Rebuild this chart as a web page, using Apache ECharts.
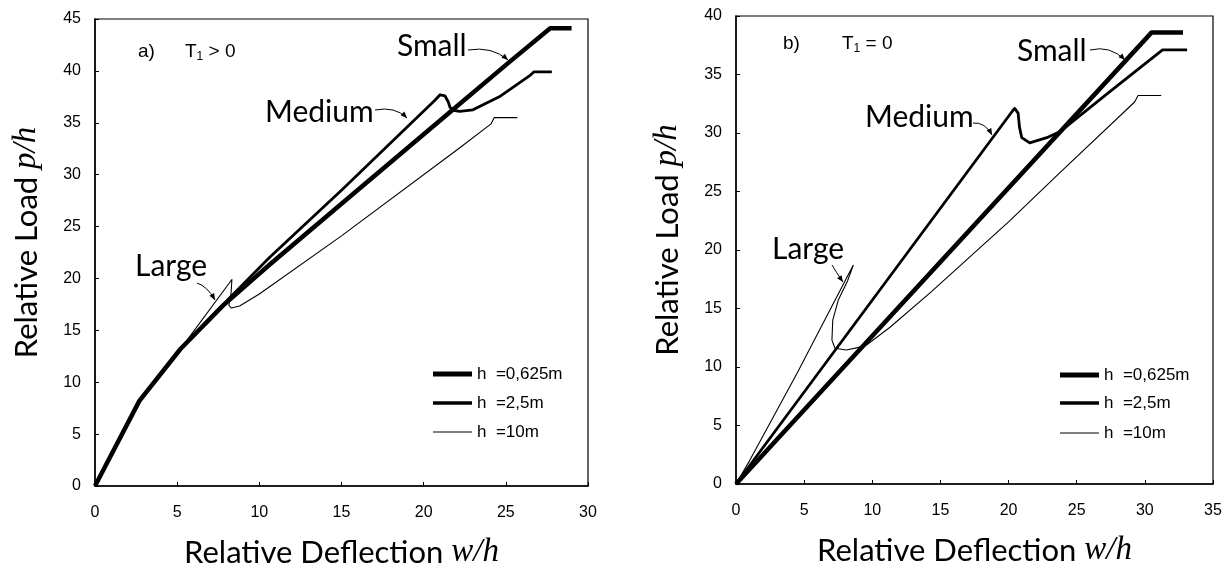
<!DOCTYPE html>
<html>
<head>
<meta charset="utf-8">
<script src="https://cdn.jsdelivr.net/npm/echarts@6/dist/echarts.min.js"></script>
<style>
  html, body { margin: 0; background: #fff; }
  #chart { width: 1228px; height: 574px; }
</style>
</head>
<body>
<div id="chart"></div>
<script>
// series names (legend)
var names = ['h  =0,625m', 'h  =2,5m', 'h  =10m'];

// a) T1 > 0  -- [w/h, p/h]
var aSmall = [[0, 0], [2.7, 8.2], [5.2, 13.2], [7.8, 17.4], [10.6, 21.3], [15, 27.2], [21.5, 35.9],
  [25.1, 40.7], [27.7, 44.1], [29, 44.1]];
var aMedium = [[0, 0], [2.7, 8.2], [5.2, 13.2], [7.8, 17.5], [10.6, 22.0], [15, 28.5], [20.7, 37.2],
  [21.0, 37.7], [21.3, 37.6], [21.5, 37.0], [21.6, 36.5], [21.8, 36.2], [22.2, 36.1], [23, 36.25],
  [24.6, 37.5], [26.5, 39.6], [26.7, 39.9], [27.8, 39.9]];
var aLarge = [[0, 0], [2.7, 8.2], [5.3, 13.4], [8.33, 19.9], [8.28, 18.6], [8.15, 17.4], [8.3, 17.15],
  [8.8, 17.35], [10, 18.5], [15, 24.1], [22.2, 32.6], [24.1, 34.9], [24.3, 35.5], [25.7, 35.5]];

// b) T1 = 0
var bSmall = [[0, 0], [30.5, 38.6], [32.8, 38.6]];
var bMedium = [[0, 0], [20.3, 31.9], [20.45, 32.1], [20.7, 31.7], [20.8, 30.5], [20.97, 29.6],
  [21.55, 29.15], [22.8, 29.6], [23.75, 30.1], [27.5, 33.6], [31.3, 37.1], [33.1, 37.1]];
var bLarge = [[0, 0], [1, 2.0], [4.5, 9.5], [8.6, 18.7], [8.2, 17.4], [7.5, 15.7],
  [7.1, 14.0], [7.04, 12.3], [7.26, 11.6], [8.1, 11.45], [9.1, 11.7], [9.6, 11.9], [11.3, 13.4],
  [14.3, 16.4], [20, 22.4], [23.75, 26.6], [29.25, 32.65], [29.5, 33.2], [31.2, 33.2]];

var widths = [4.5, 2.8, 1.1];

var chart = echarts.init(document.getElementById('chart'));

var titleRich = {
  a: { fontFamily: 'Lato', fontSize: 31, color: '#000' },
  b: { fontFamily: 'Liberation Serif', fontStyle: 'italic', fontSize: 33, color: '#000' }
};

function xAxis(idx, max) {
  return {
    gridIndex: idx, type: 'value', min: 0, max: max, interval: 5,
    name: '{a|Relative Deflection }{b|w/h}', nameLocation: 'middle', nameGap: 50,
    nameTextStyle: { rich: titleRich },
    axisLine: { lineStyle: { color: '#000', width: 1.5 } },
    axisTick: { inside: true, length: 4, lineStyle: { color: '#000' } },
    axisLabel: { fontFamily: 'Liberation Sans', fontSize: 16, color: '#000', margin: 19 },
    splitLine: { show: false }
  };
}
function yAxis(idx, max) {
  return {
    gridIndex: idx, type: 'value', min: 0, max: max, interval: 5,
    name: '{a|Relative Load }{b|p/h}', nameLocation: 'middle', nameGap: 52, nameRotate: 90,
    nameTextStyle: { rich: titleRich, padding: [0, 0, 0, 20] },
    axisLine: { lineStyle: { color: '#000', width: 1.5 } },
    axisTick: { inside: true, length: 4, lineStyle: { color: '#000' } },
    axisLabel: { fontFamily: 'Liberation Sans', fontSize: 16, color: '#000', margin: 14 },
    splitLine: { show: false }
  };
}
function line(name, data, idx, w) {
  return {
    name: name, type: 'line', xAxisIndex: idx, yAxisIndex: idx, data: data,
    symbol: 'none', color: '#000', animation: false,
    lineStyle: { color: '#000', width: w, join: 'round' }
  };
}
function legend(name, left, top, h) {
  return {
    data: [name], left: left, top: top, padding: 0, icon: 'rect',
    itemWidth: 39, itemHeight: h, selectedMode: false,
    textStyle: { fontFamily: 'Liberation Sans', fontSize: 17, color: '#000', lineHeight: 18 }
  };
}
function label(text, x, y) {
  return { type: 'text', x: x, y: y,
    style: { text: text, fontFamily: 'Lato', fontSize: 30, fill: '#000', verticalAlign: 'middle' } };
}
function tag(text, x, y) {
  return { type: 'text', x: x, y: y,
    style: { text: text, fontFamily: 'Liberation Sans', fontSize: 19, fill: '#000', verticalAlign: 'middle',
      rich: { s: { fontFamily: 'Liberation Sans', fontSize: 12, verticalAlign: 'bottom', padding: [10, 0, 0, 0] } } } };
}
function arrow(x1, y1, cx, cy, x2, y2) {
  var a = Math.atan2(y2 - cy, x2 - cx), L = 7, s = 0.4;
  return [
    { type: 'bezierCurve', shape: { x1: x1, y1: y1, cpx1: cx, cpy1: cy, x2: x2, y2: y2 },
      style: { stroke: '#000', lineWidth: 1, fill: null } },
    { type: 'polygon', shape: { points: [[x2, y2],
      [x2 - L * Math.cos(a - s), y2 - L * Math.sin(a - s)],
      [x2 - L * Math.cos(a + s), y2 - L * Math.sin(a + s)]] }, style: { fill: '#000' } }
  ];
}

var graphics = [
  label('Small', 397, 46), label('Medium', 265, 112), label('Large', 135, 266),
  label('Small', 1017, 51), label('Medium', 865, 117), label('Large', 772, 249),
  tag('a)', 138, 52), tag('T{s|1} > 0', 185, 52),
  tag('b)', 783, 44), tag('T{s|1} = 0', 842, 44)
].concat(
  arrow(468, 50, 492, 46, 508, 60), arrow(375, 110, 395, 106, 407, 118), arrow(197, 283, 207, 286, 215, 300),
  arrow(1090, 50, 1110, 45, 1125, 60), arrow(973, 123, 985, 122, 992, 135), arrow(832, 265, 836, 272, 843, 282)
);

chart.setOption({
  animation: false,
  grid: [
    { left: 95, top: 19, width: 493, height: 468, show: true, borderColor: '#000', borderWidth: 1.2 },
    { left: 736, top: 16, width: 477, height: 468, show: true, borderColor: '#000', borderWidth: 1.2 }
  ],
  xAxis: [xAxis(0, 30), xAxis(1, 35)],
  yAxis: [yAxis(0, 45), yAxis(1, 40)],
  legend: [
    legend(names[0], 433, 365, 5), legend(names[1], 433, 394, 3.5), legend(names[2], 433, 423, 1.2),
    legend(names[0], 1060, 366, 5), legend(names[1], 1060, 394, 3.5), legend(names[2], 1060, 424, 1.2)
  ],
  series: [
    line(names[0], aSmall, 0, widths[0]), line(names[1], aMedium, 0, widths[1]), line(names[2], aLarge, 0, widths[2]),
    line(names[0], bSmall, 1, widths[0]), line(names[1], bMedium, 1, widths[1]), line(names[2], bLarge, 1, widths[2])
  ],
  graphic: graphics
});
</script>
</body>
</html>
